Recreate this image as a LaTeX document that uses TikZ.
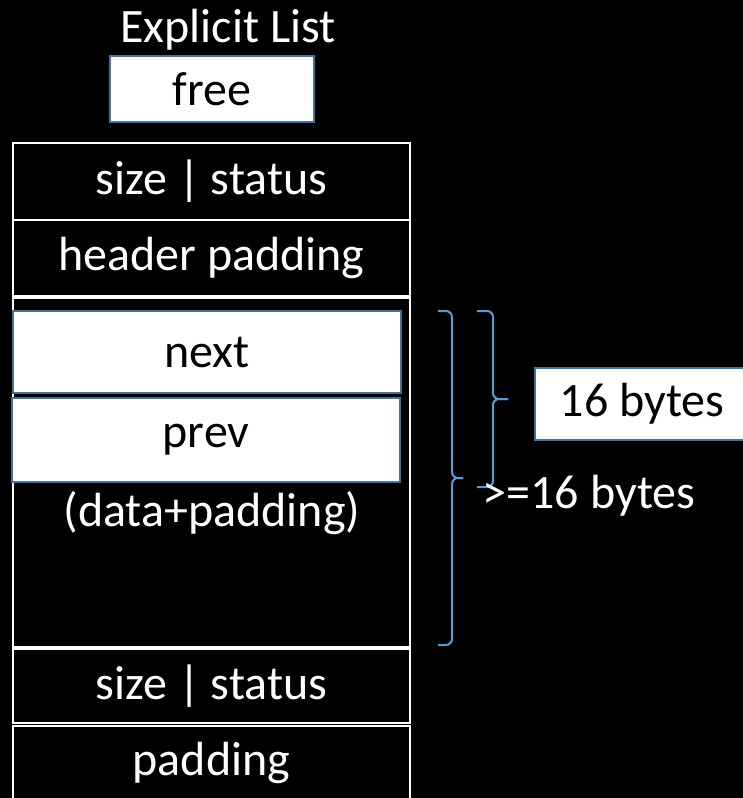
\documentclass[tikz,border=0pt]{standalone}
\usepackage{fontspec}
\setmainfont{Carlito}
\usepackage{tikz}
\definecolor{boxedge}{RGB}{65,113,156}
\definecolor{bracecol}{RGB}{91,155,213}
\newcommand{\slidefont}{\fontsize{48}{57}\selectfont}

\begin{document}
\begin{tikzpicture}[x=1pt, y=-1pt,
  cell/.style={rectangle, draw=white, fill=black, text=white, line width=2pt,
               minimum width=397pt, inner sep=0pt, font=\slidefont},
  field/.style={rectangle, draw=boxedge, fill=white, text=black, line width=2pt,
                inner sep=0pt, font=\slidefont},
  caption/.style={text=white, inner sep=0pt, font=\slidefont},
  brc/.style={draw=bracecol, line width=2pt, rounded corners=6pt},
]
  \useasboundingbox (0,0) rectangle (743,798);
  \fill[black] (0,0) rectangle (743,798);

  % Title and status box
  \node[caption] (title) at (228,30) {Explicit List};
  \node[field, minimum width=204pt, minimum height=66pt] (free) at (212,89) {free};

  % Block layout
  \node[cell, minimum height=77pt] (hdr) at (211.5,181.5) {size | status};
  \node[cell, minimum height=76pt] (hpad) at (211.5,258) {header padding};
  \node[cell, minimum height=349pt] (data) at (211.5,472.5) {};
  \node[cell, minimum height=74pt] (ftr) at (211.5,686) {size | status};
  \node[cell, minimum height=74pt] (fpad) at (211.5,763) {padding};

  % Free list pointers
  \node[field, minimum width=388pt, minimum height=82pt] (next) at (207,352) {next};
  \node[field, minimum width=388pt, minimum height=84pt] (prev) at (206,440) {prev};
  \node[caption] (payload) at (212,513) {(data+padding)};

  % Size annotations (braces: two halves meeting at the tip)
  \coordinate (bigtop) at (438,311);
  \coordinate (bigbot) at (438,645);
  \coordinate (bigtip) at (463,478);
  \coordinate (smalltop) at (477,311);
  \coordinate (smallbot) at (477,487);
  \coordinate (smalltip) at (508,399);
  \draw[brc] (bigtop) -- (452,311) -- (452,478) -- (bigtip);
  \draw[brc] (bigbot) -- (452,645) -- (452,478) -- (bigtip);
  \draw[brc] (smalltop) -- (493,311) -- (493,399) -- (smalltip);
  \draw[brc] (smallbot) -- (493,487) -- (493,399) -- (smalltip);
  \node[field, minimum width=214pt, minimum height=72pt] (min16) at (642,404) {16 bytes};
  \node[caption] (atleast) at (589,496) {>=16 bytes};
\end{tikzpicture}
\end{document}
